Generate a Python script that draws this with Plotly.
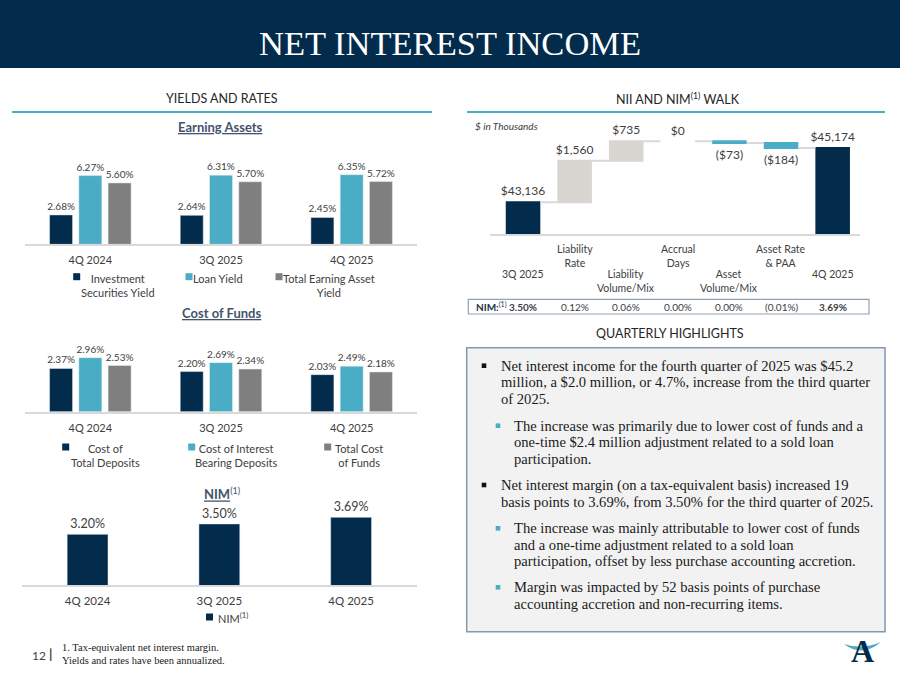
import plotly.graph_objects as go

# ---------------- data ----------------
quarters = ["4Q 2024", "3Q 2025", "4Q 2025"]

ea_labels = ["Investment<br>Securities Yield", "Loan Yield", "Total Earning Asset<br>Yield"]
ea_invest = [2.68, 2.64, 2.45]
ea_loan = [6.27, 6.31, 6.35]
ea_total = [5.60, 5.70, 5.72]

cof_labels = ["Cost of<br>Total Deposits", "Cost of Interest<br>Bearing Deposits", "Total Cost<br>of Funds"]
cof_deposits = [2.37, 2.20, 2.03]
cof_ib = [2.96, 2.69, 2.49]
cof_total = [2.53, 2.34, 2.18]

nim_values = [3.20, 3.50, 3.69]

wf_categories = ["3Q 2025", "Liability<br>Rate", "Liability<br>Volume/Mix", "Accrual<br>Days",
                 "Asset<br>Volume/Mix", "Asset Rate<br>& PAA", "4Q 2025"]
wf_values = [43136, 1560, 735, 0, -73, -184, 45174]
wf_measure = ["absolute", "relative", "relative", "relative", "relative", "relative", "total"]
wf_nim = ["3.50%", "0.12%", "0.06%", "0.00%", "0.00%", "(0.01%)", "3.69%"]

# ---------------- style ----------------
W, H = 900, 675
NAVY = "#022B4C"
BLUE = "#4BACC6"
GRAY = "#7F7F7F"
LIGHT = "#D9D6D1"
TXT = "#404040"
HEAD = "#262626"
TITLEC = "#44546A"
SANS = "Lato"
SERIF = "Liberation Serif"


def px(x):
    return x / W


def py(y):
    return 1 - y / H


fig = go.Figure()

BW = 0.176
OFFS = [-0.312, -0.088, 0.136]


def grouped(series, colors, xa, ya, size):
    for vals, col, off in zip(series, colors, OFFS):
        fig.add_trace(go.Bar(
            x=quarters, y=vals, marker_color=col, width=BW, offset=off,
            text=[f"{v:.2f}%" for v in vals], textposition="outside",
            constraintext="none", cliponaxis=False,
            textfont=dict(family=SANS, size=size, color=TXT),
            xaxis=xa, yaxis=ya, showlegend=False, hoverinfo="skip"))


grouped([ea_invest, ea_loan, ea_total], [NAVY, BLUE, GRAY], "x", "y", 10)
grouped([cof_deposits, cof_ib, cof_total], [NAVY, BLUE, GRAY], "x2", "y2", 10)

fig.add_trace(go.Bar(
    x=quarters, y=nim_values, marker_color=NAVY, width=0.31,
    text=[f"{v:.2f}%" for v in nim_values], textposition="outside",
    constraintext="none", cliponaxis=False,
    textfont=dict(family=SANS, size=12.5, color=TXT),
    xaxis="x3", yaxis="y3", showlegend=False, hoverinfo="skip"))


def money(v):
    return f"${v:,}" if v >= 0 else f"(${-v:,})"


fig.add_trace(go.Waterfall(
    x=wf_categories, y=wf_values, measure=wf_measure,
    text=[money(v) for v in wf_values], textposition="outside",
    constraintext="none", cliponaxis=False,
    textfont=dict(family=SANS, size=12, color=TXT),
    increasing=dict(marker=dict(color=LIGHT)),
    decreasing=dict(marker=dict(color=BLUE)),
    totals=dict(marker=dict(color=NAVY)),
    connector=dict(line=dict(color="#D9D9D9", width=2)),
    xaxis="x4", yaxis="y4", showlegend=False, hoverinfo="skip"))

xcommon = dict(type="category", showline=True, linecolor="#D9D9D9", linewidth=1.5,
               ticks="", showgrid=False, zeroline=False,
               tickfont=dict(family=SANS, size=11, color=TXT))
ycommon = dict(visible=False, showgrid=False, zeroline=False)

fig.update_layout(
    width=W, height=H, margin=dict(l=0, r=0, t=0, b=0),
    paper_bgcolor="white", plot_bgcolor="rgba(0,0,0,0)",
    barmode="overlay", waterfallgap=0.33,
    xaxis=dict(xcommon, domain=[px(25), px(417)], anchor="y", ticklabelstandoff=5),
    yaxis=dict(ycommon, domain=[py(244.3), py(150)], range=[0, 94.3 / 10.96], anchor="x"),
    xaxis2=dict(xcommon, domain=[px(25), px(417)], anchor="y2", ticklabelstandoff=5),
    yaxis2=dict(ycommon, domain=[py(411.7), py(330)], range=[0, 81.7 / 18.24], anchor="x2"),
    xaxis3=dict(xcommon, domain=[px(21.7), px(417)], anchor="y3", ticklabelstandoff=4,
                tickfont=dict(family=SANS, size=11.5, color=TXT)),
    yaxis3=dict(ycommon, domain=[py(585), py(500)], range=[1.74, 1.74 + 85 / 34.7], anchor="x3"),
    xaxis4=dict(xcommon, domain=[px(490), px(860)], anchor="y4", range=[-0.64, 6.53],
                showticklabels=False),
    yaxis4=dict(ycommon, domain=[py(234.3), py(118)], range=[41935, 41935 + 116.3 / 0.02665],
                anchor="x4"),
)

shapes = []
annots = []


def rect(x0, y0, x1, y1, fill, line=None, lw=0):
    shapes.append(dict(type="rect", xref="paper", yref="paper",
                       x0=px(x0), x1=px(x1), y0=py(y1), y1=py(y0),
                       fillcolor=fill, line=dict(color=line or fill, width=lw), layer="below"))


def hline(x0, x1, y, color, w):
    shapes.append(dict(type="line", xref="paper", yref="paper",
                       x0=px(x0), x1=px(x1), y0=py(y), y1=py(y), line=dict(color=color, width=w)))


def ann(text, x, y, size=11, color=TXT, family=SANS, xanchor="center", yanchor="middle",
        align="center"):
    annots.append(dict(text=text, x=px(x), y=py(y), xref="paper", yref="paper", showarrow=False,
                       xanchor=xanchor, yanchor=yanchor, align=align,
                       font=dict(family=family, size=size, color=color)))


# title bar
rect(0, 0, 900, 68, NAVY)
ann("NET INTEREST INCOME", 450, 43, size=34.5, color="white", family=SERIF)

# section headers
ann("YIELDS AND RATES", 222, 98, size=12.5, color=HEAD)
ann("NII AND NIM<sup>(1)</sup> WALK", 678, 98, size=12.5, color=HEAD)
hline(12, 432, 112, BLUE, 2)
hline(467, 885, 112, BLUE, 2)

# chart titles
ann("<b><u>Earning Assets</u></b>", 220, 127, size=13, color=TITLEC)
ann("<b><u>Cost of Funds</u></b>", 221.7, 313, size=13, color=TITLEC)
ann("<b><u>NIM</u></b><sup>(1)</sup>", 222, 493, size=13, color=TITLEC)


# legends for grouped charts
def legend(labels, marks, centers, y):
    for lab, (mx, col), cx in zip(labels, marks, centers):
        rect(mx - 3.5, y - 3.5, mx + 3.5, y + 3.5, col)
        ann(lab, cx, y - 7, size=11, yanchor="top")


legend(ea_labels, [(76.7, NAVY), (189, BLUE), (279, GRAY)], [118, 218, 328.5], 276.7)
legend(cof_labels, [(65.7, NAVY), (191.7, BLUE), (327.7, GRAY)], [105, 236, 358.5], 447)
rect(206, 613.5, 213, 620.5, NAVY)
ann("NIM<sup>(1)</sup>", 216, 617, size=11, xanchor="left")

# waterfall decorations
ann("<i>$ in Thousands</i>", 473, 126, size=10, xanchor="left")
for i, cat in enumerate(wf_categories):
    ytop = 241 if i % 2 == 1 else 266
    annots.append(dict(text=cat, x=i, y=py(ytop), xref="x4", yref="paper", showarrow=False,
                       xanchor="center", yanchor="top", align="center",
                       font=dict(family=SANS, size=10.5, color=TXT)))
rect(468.3, 299.3, 869, 314, "white", line="#8EA3B8", lw=1.2)
ann("<b>NIM:</b><sup>(1)</sup>", 474, 306.7, size=10, color="#1F2F3F", xanchor="left")
for i, v in enumerate(wf_nim):
    bold = i in (0, len(wf_nim) - 1)
    annots.append(dict(text=f"<b>{v}</b>" if bold else v, x=i, y=py(306.7), xref="x4",
                       yref="paper", showarrow=False, xanchor="center", yanchor="middle",
                       font=dict(family=SANS, size=10, color=TXT)))

# quarterly highlights
ann("QUARTERLY HIGHLIGHTS", 670, 333, size=12.5, color=HEAD)
rect(466.7, 347.7, 885, 631.7, "#F2F2F2", line="#8497B0", lw=1.5)
highlights = [
    (0, 365.7, ["Net interest income for the fourth quarter of 2025 was $45.2",
                "million, a $2.0 million, or 4.7%, increase from the third quarter",
                "of 2025."]),
    (1, 425.7, ["The increase was primarily due to lower cost of funds and a",
                "one-time $2.4 million adjustment related to a sold loan",
                "participation."]),
    (0, 485.0, ["Net interest margin (on a tax-equivalent basis) increased 19",
                "basis points to 3.69%, from 3.50% for the third quarter of 2025."]),
    (1, 528.3, ["The increase was mainly attributable to lower cost of funds",
                "and a one-time adjustment related to a sold loan",
                "participation, offset by less purchase accounting accretion."]),
    (1, 587.3, ["Margin was impacted by 52 basis points of purchase",
                "accounting accretion and non-recurring items."]),
]
for lvl, y0, lines in highlights:
    bx = 484 if lvl == 0 else 498
    tx = 499 if lvl == 0 else 512
    bcol = "#111111" if lvl == 0 else BLUE
    rect(bx - 2.3, y0 - 2.3, bx + 2.3, y0 + 2.3, bcol)
    for j, line in enumerate(lines):
        ann(line, tx, y0 + j * 16.5, size=14.6, color="#1A1A1A", family=SERIF, xanchor="left")

# footer
ann("12", 38.5, 655, size=12, color=TXT)
ann("<b>|</b>", 50, 654, size=13, color=TXT)
ann("1. Tax-equivalent net interest margin.", 60, 647, size=10.5, color="#1A1A1A",
    family=SERIF, xanchor="left")
ann("Yields and rates have been annualized.", 60, 660, size=10.5, color="#1A1A1A",
    family=SERIF, xanchor="left")

# logo
ann("<b>A</b>", 862, 651, size=32, color=NAVY, family=SERIF)
path = "M {} {} Q {} {} {} {} Q {} {} {} {} Z".format(
    px(844), py(644), px(862), py(658), px(881), py(642), px(862), py(650), px(844), py(644))
shapes.append(dict(type="path", xref="paper", yref="paper", path=path,
                   fillcolor=BLUE, line=dict(color=BLUE, width=0)))

fig.update_layout(shapes=shapes, annotations=annots)
fig.write_html("out.html", config={"displayModeBar": False},
               post_script="document.body.style.margin='0px';document.body.style.overflow='hidden';")
